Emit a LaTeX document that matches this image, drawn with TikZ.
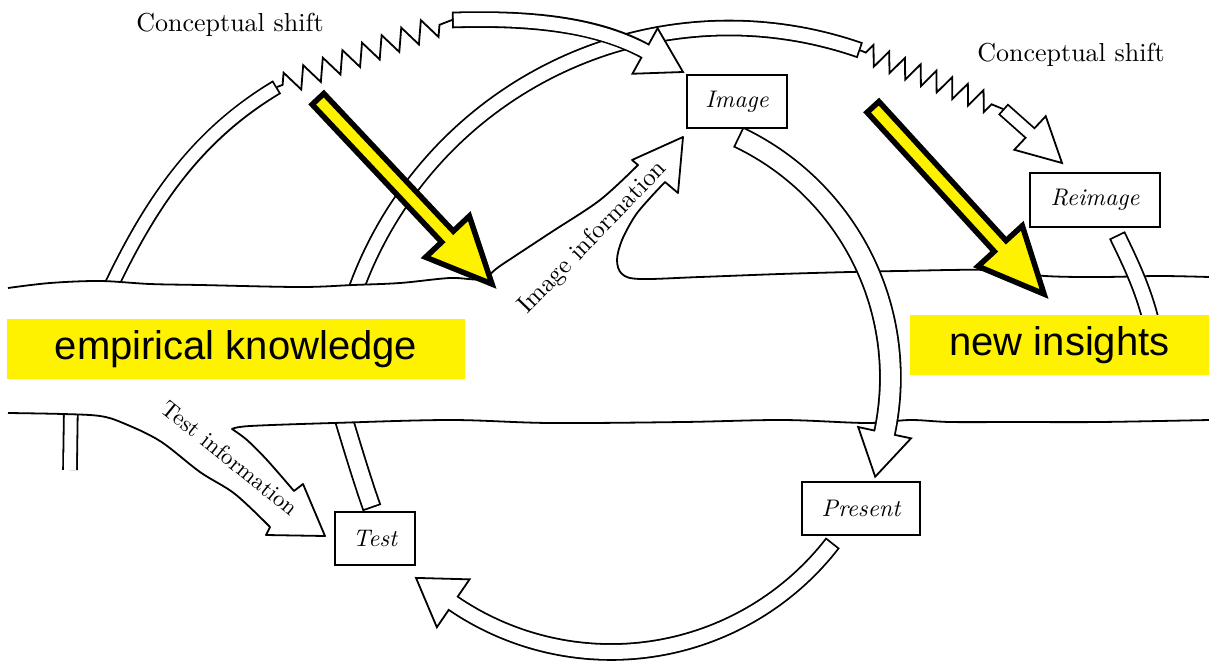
\documentclass[tikz,border=0pt]{standalone}
\usepackage{fontspec}
\newfontfamily\labelsans{Liberation Sans}
\newfontfamily\bookserif{lmroman10-regular.otf}[ItalicFont=lmroman10-italic.otf]
\usetikzlibrary{calc,decorations.pathmorphing}

% white-filled arrow head sitting on a band: base point, tip, half width
\newcommand\bandhead[3]{%
  \filldraw[fill=white, line width=1.8pt, line join=miter]
    ($(#1)!#3!90:(#2)$) -- (#2) -- ($(#1)!#3!-90:(#2)$) -- cycle;}

% fat yellow pointer with a heavy black rim: tail, tip
\newcommand\yellowarrow[2]{%
  \coordinate (yb) at ($(#2)!65pt!(#1)$);
  \filldraw[yarrow]
    ($(#1)!8pt!90:(#2)$) -- ($(yb)!8pt!90:(#2)$) -- ($(yb)!30pt!90:(#2)$) --
    (#2) -- ($(yb)!30pt!-90:(#2)$) -- ($(yb)!8pt!-90:(#2)$) --
    ($(#1)!8pt!-90:(#2)$) -- cycle;}

\begin{document}
\begin{tikzpicture}[x=1pt,y=-1pt,
  bankline/.style={line width=1.8pt, line join=round},
  bandblack/.style={line width=#1+3.6pt, line join=round},
  bandwhite/.style={line width=#1, white, line join=round},
  stepbox/.style={draw, fill=white, line width=1.6pt, inner sep=0pt,
    font=\bookserif\fontsize{24}{28}\selectfont\itshape},
  yellowtag/.style={fill=yellow, inner sep=0pt,
    font=\labelsans\fontsize{40}{48}\selectfont},
  serifnote/.style={inner sep=0pt, font=\bookserif\fontsize{#1}{30}\selectfont},
  serifnote/.default=26,
  yarrow/.style={fill=yellow, draw=black, line width=5.5pt, line join=miter},
  spring/.style={bankline, line join=miter, decorate, decoration={zigzag, #1}}
]
\useasboundingbox (0,0) rectangle (1209,661);
\fill[white] (0,0) rectangle (1209,661);

% ---- loops that pass underneath the stream of knowledge ----
\coordinate (outerTop) at (277,87);
\def\outerarc{(100,310) .. controls (145,210) and (192,138) .. (outerTop)}
\draw[bandblack=12pt] \outerarc;
\draw[bandwhite=12pt, shorten >=1.8pt] \outerarc;

\draw[bandblack=12pt] (71,400) -- (70,470);
\draw[bandwhite=12pt] (71,400) -- (70,470);

\def\midarc{plot[domain=-163:-70.7, samples=80] ({729+397*cos(\x)},{425+397*sin(\x)})}
\coordinate (midEnd) at ({729+397*cos(-70.7)},{425+397*sin(-70.7)});
\draw[bandblack=13pt] \midarc;
\draw[bandwhite=13pt, shorten >=1.8pt] \midarc;

\def\testleg{(338,400) .. controls (350,440) and (362,480) .. (372,508)}
\draw[bandblack=16pt] \testleg;
\draw[bandwhite=16pt, shorten >=1.8pt] \testleg;

% ---- the stream, with its two side arms ----
\def\upperbank{plot[smooth, tension=0.55] coordinates {(8,288) (50,283) (100,281)
  (150,284) (200,285) (300,287) (353,285) (400,283) (450,278) (482,279) (500,266)
  (550,233) (600,200) (638,165)} -- (632,160) -- (683,137) -- (678,193) -- (665,182)
  -- plot[smooth, tension=0.55] coordinates {(665,182) (650,198) (635,216) (622,240)
  (617,260) (622,274) (640,279) (700,277) (780,274) (850,272) (900,271) (987,270)
  (1045,276) (1100,277) (1160,276) (1209,277)}}
\def\lowerbank{plot[smooth, tension=0.55] coordinates {(1209,420) (1100,422)
  (1017,422) (950,422) (910,420) (867,423) (783,420) (683,422) (550,423) (450,420)
  (333,423) (250,426) (232,429)} -- plot[smooth, tension=0.55] coordinates {(232,429)
  (247,440) (267,460) (294,491)} -- (303,484) -- (325,536) -- (266,535) -- (270,527)
  -- plot[smooth, tension=0.55] coordinates {(270,527) (235,494) (200,472) (160,441)
  (123,423) (100,416) (63,414) (8,413)}}
\edef\lowerjoin{-- \unexpanded\expandafter{\lowerbank}}
\fill[white] \upperbank \lowerjoin -- cycle;
\draw[bankline] \upperbank;
\draw[bankline] \lowerbank;

% ---- conceptual shift springs ----
\def\toppath{(452,20) .. controls (520,18) and (592.5,22) .. (645,51)}
\draw[bandblack=13pt] \toppath;
\bandhead{645,51}{683,72}{26pt}
\draw[bandwhite=13pt, shorten <=1.8pt, shorten >=-3pt] \toppath;
\draw[spring={segment length=21pt, amplitude=11pt, pre length=6pt, post length=8pt}]
  (outerTop) -- (452,20);

\draw[bandblack=11pt] (1003,109) -- (1030,133);
\bandhead{1030,133}{1062,163}{23pt}
\draw[bandwhite=11pt, shorten <=1.8pt, shorten >=-3pt] (1003,109) -- (1030,133);
\draw[spring={segment length=17pt, amplitude=10pt, pre length=6pt, post length=10pt}]
  (midEnd) -- (1003,109);

% ---- the cycle Image -> Present -> Test ----
\def\ipath{plot[domain=-64.7:12, samples=70] ({624.4+266*cos(\x)},{377.4+266*sin(\x)})}
\draw[bandblack=19pt] \ipath;
\bandhead{884.6,432.7}{875.2,476.7}{27pt}
\draw[bandwhite=19pt, shorten <=1.8pt, shorten >=-3pt] \ipath;

\def\ppath{plot[domain=37.6:124.3, samples=70] ({611+280*cos(\x)},{372+280*sin(\x)})}
\draw[bandblack=14pt] \ppath;
\bandhead{453.2,603.3}{416,577.9}{29pt}
\draw[bandwhite=14pt, shorten <=1.8pt, shorten >=-3pt] \ppath;

\def\rpath{(1117,235) .. controls (1130,262) and (1145,292) .. (1153,330)}
\draw[bandblack=14pt] \rpath;
\draw[bandwhite=14pt, shorten <=1.8pt] \rpath;

% ---- stage boxes ----
\node[stepbox, minimum width=100pt, minimum height=53pt] (image) at (737,101.5) {Image};
\node[stepbox, minimum width=130pt, minimum height=54pt] (reimage) at (1095,200) {Reimage};
\node[stepbox, minimum width=118pt, minimum height=53pt] (present) at (861,508.5) {Present};
\node[stepbox, minimum width=80pt, minimum height=53pt] (test) at (375,538.5) {Test};

% ---- highlighted labels ----
\node[yellowtag, minimum width=458pt, minimum height=60pt] (empirical) at (236,349) {empirical knowledge};
\node[yellowtag, minimum width=299pt, minimum height=60pt] (insights) at (1059.5,345) {new insights};

% ---- captions ----
\node[serifnote, anchor=base] (shiftL) at (230,32) {Conceptual shift};
\node[serifnote, anchor=base] (shiftR) at (1071,62) {Conceptual shift};
\node[serifnote=25, rotate=46] (imginfo) at (593,238) {Image information};
\node[serifnote=23, rotate=-39] (testinfo) at (230,458) {Test information};

% ---- yellow pointers ----
\yellowarrow{318,99}{492,284}
\yellowarrow{873,107}{1044,294}
\end{tikzpicture}
\end{document}
